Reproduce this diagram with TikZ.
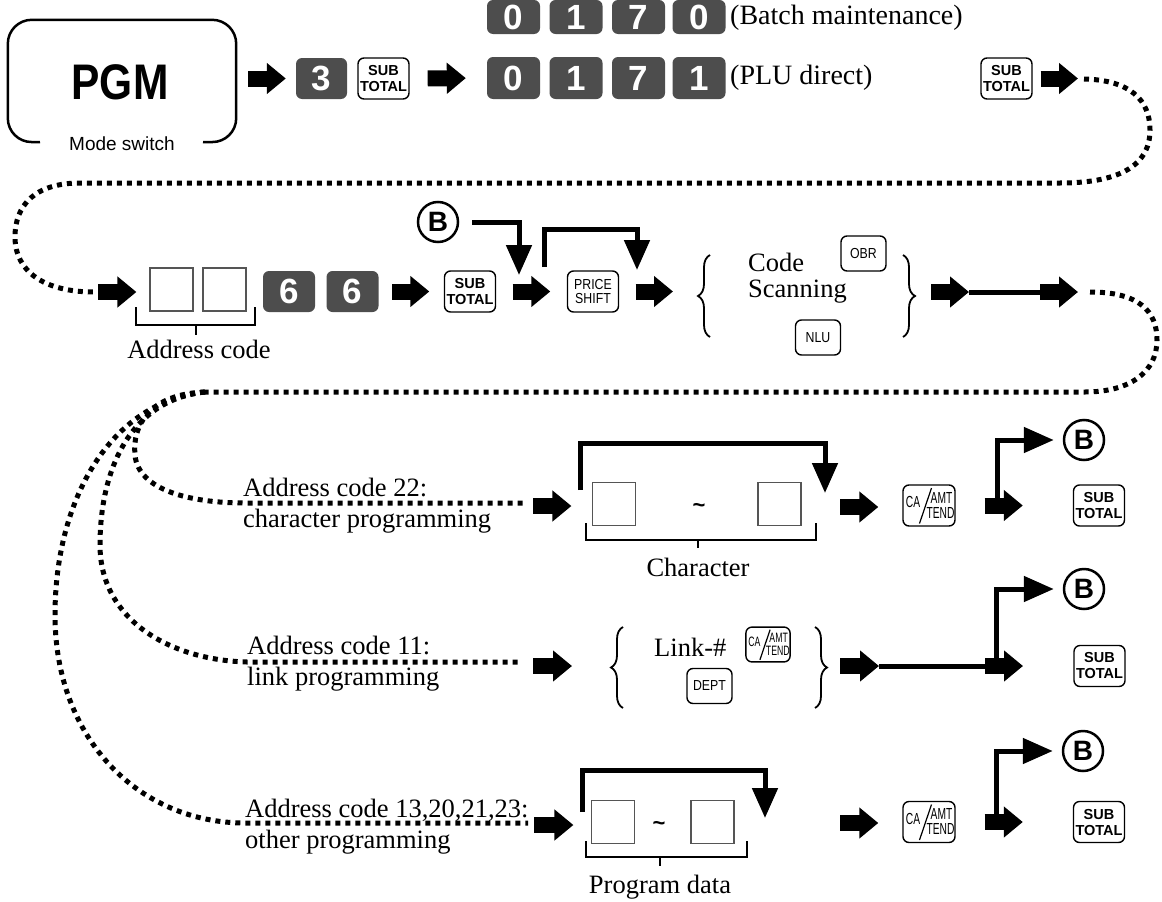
\documentclass[tikz,border=0pt]{standalone}
\usepackage{fontspec}
\usepackage{graphicx}
\setmainfont{Liberation Serif}
\newfontfamily\arial{Liberation Sans}
\newfontfamily\arialn[FakeStretch=0.85]{Liberation Sans}
\newfontfamily\arialnn[FakeStretch=0.64]{Liberation Sans}
\usetikzlibrary{arrows.meta,decorations.pathreplacing,calc}
\definecolor{keygray}{HTML}{4D4D4D}
\definecolor{boxgray}{HTML}{555555}
\tikzset{
 wkey/.style={draw, line width=1.4pt, rounded corners=6pt, minimum width=51pt, minimum height=41pt, inner sep=0pt, fill=white, align=center},
 stk/.style={wkey, font=\arial\bfseries\fontsize{14.5}{16}\selectfont},
 smk/.style={wkey, minimum width=45pt, minimum height=35pt, font=\arialn\fontsize{14.5}{14.5}\selectfont},
 dkey/.style={fill=keygray, rounded corners=6pt, minimum width=53pt, minimum height=42pt, inner sep=0pt, text=white, font=\arial\bfseries\fontsize{35}{35}\selectfont},
 ebox/.style={draw=boxgray, line width=1.2pt, minimum size=43pt, inner sep=0pt},
 blk/.style={line width=16pt, -{Triangle[width=30pt,length=19pt]}},
 byp/.style={line width=5pt, -{Triangle[width=25pt,length=30pt]}},
 dots/.style={line width=5pt, dash pattern=on 5pt off 5pt},
 bcirc/.style={circle, draw, line width=2.5pt, minimum size=40pt, inner sep=0pt, font=\arial\bfseries\fontsize{28}{28}\selectfont},
 lbl/.style={inner sep=0pt, font=\fontsize{26.5}{31}\selectfont},
 ann/.style={inner sep=0pt, font=\fontsize{28}{28}\selectfont},
 brk/.style={line width=2pt},
 brc/.style={decorate, decoration={brace, amplitude=12pt}, line width=1.8pt},
 catxt/.style={inner sep=0pt, font=\arialnn\fontsize{16}{16}\selectfont},
 tld/.style={inner sep=0pt, font=\arial\bfseries\fontsize{22}{22}\selectfont},
 thk/.style={line width=5pt},
}
\newcommand\myCAkey[4]{%
 \begin{scope}[shift={(#2,#3)}, scale=#4, transform shape]
  \node[wkey, minimum width=52pt] (#1) at (0,0) {};
  \node[catxt] (#1-ca) at (-16,-3.5) {CA};
  \node[catxt] (#1-amt) at (12.5,-8) {AMT};
  \node[catxt] (#1-tend) at (11.5,7) {TEND};
  \draw[line width=1.2pt] (-9.5,18) -- (2.5,-17.5);
 \end{scope}}
\begin{document}
\begin{tikzpicture}[x=1pt,y=-1pt]
\useasboundingbox (0,0) rectangle (1162,902);

% ---------------- Row 1
\node (pgmbox) [minimum width=228pt, minimum height=122pt, inner sep=0pt] at (122,81) {};
\draw[line width=2.5pt, rounded corners=24pt] (40,142) -- (pgmbox.south west) -- (pgmbox.north west) -- (pgmbox.north east) -- (pgmbox.south east) -- (203,142);
\node (pgm) at (120,82) [font=\arialn\bfseries\fontsize{50}{50}\selectfont] {PGM};
\node (mode) at (122,144) [font=\arial\fontsize{19}{19}\selectfont] {Mode switch};
\node[dkey, minimum width=51pt, minimum height=41pt] (k3) at (321.5,78.5) {3};
\node[stk] (st0) at (383.5,78.5) {SUB\\TOTAL};
\draw[blk, shorten <=12pt, shorten >=10pt] (pgmbox.east |- k3) -- (k3.west);

\node[dkey, minimum height=34pt] (a0) at (513.5,17) {0};
\node[dkey, minimum height=34pt] (a1) at (576,17) {1};
\node[dkey, minimum height=34pt] (a2) at (638.5,17) {7};
\node[dkey, minimum height=34pt] (a3) at (699,17) {0};
\node[dkey] (b0) at (513.5,78) {0};
\node[dkey] (b1) at (576,78) {1};
\node[dkey] (b2) at (638.5,78) {7};
\node[dkey] (b3) at (699,78) {1};
\draw[blk, shorten <=18pt, shorten >=21pt] (st0.east) -- (b0.west);
\node[ann, anchor=west] (batch) at (730,18) {(Batch maintenance)};
\node[ann, anchor=west] (plu) at (730,78) {(PLU direct)};
\node[stk] (st1) at (1006.5,78.5) {SUB\\TOTAL};
\coordinate (d1) at (1078,78.5);
\coordinate (d1s) at (1084,79);
\draw[blk, shorten <=8pt] (st1.east) -- (d1);

% dotted loop 1
\coordinate (d2) at (98,292);
\draw[dots] (d1s) .. controls (1130,80) and (1150,100) .. (1150,130) .. controls (1150,168) and (1115,183) .. (1060,183) -- (80,183) .. controls (35,183) and (15,205) .. (15,237) .. controls (15,272) and (45,292) .. (94,292);

% ---------------- Row 2
\node[ebox] (e1) at (171.5,289.5) {};
\node[ebox] (e2) at (224.5,289.5) {};
\draw[blk, shorten >=13pt] (d2) -- (e1.west |- d2);
\draw[brk] (136,307) -- (136,325) -- (255,325) -- (255,307);
\draw[brk] (196,325) -- (196,335);
\node[lbl, anchor=base] (adc) at (199,358) {Address code};
\node[dkey, minimum width=52pt, minimum height=41pt] (s1) at (289,291.5) {6};
\node[dkey, minimum width=52pt, minimum height=41pt] (s2) at (352.5,291.5) {6};
\node[stk] (st2) at (470,291.5) {SUB\\TOTAL};
\node[wkey, font=\arialn\fontsize{14.5}{13.5}\selectfont] (ps) at (593,291.5) {PRICE\\SHIFT};
\draw[blk, shorten <=13.5pt, shorten >=14.5pt] (s2.east) -- (st2.west);
\draw[blk, shorten <=16.5pt, shorten >=16.5pt] (st2.east) -- (ps.west);
\coordinate (r2z) at (673,291.5);
\draw[blk, shorten <=16.5pt] (ps.east) -- (r2z);
\node[bcirc] (bA) at (438,222) {B};
\coordinate (bA1) at (519,275);
\draw[byp] ([xshift=13pt]bA.east) -| (bA1);
\coordinate (p0) at (544,267);
\coordinate (p1) at (637,270);
\draw[byp] (p0) -- (544,229) -| (p1);

\draw[brc] (710,337) -- (710,255);
\node[lbl, anchor=west] (code) at (748,262) {Code};
\node[lbl, anchor=west] (scan) at (748,292) {Scanning};
\node[smk] (obr) at (863.5,253.5) {OBR};
\node[smk] (nlu) at (818,337.5) {NLU};
\draw[brc] (903,255) -- (903,337);
\coordinate (r2a) at (931,292);
\coordinate (r2b) at (969,292);
\coordinate (r2c) at (1040,292);
\coordinate (r2d) at (1078,292);
\draw[blk] (r2a) -- (r2b);
\draw[thk] (r2b) -- (r2c);
\draw[blk] (r2c) -- (r2d);

% dotted loop 2 and fan
\coordinate (d3) at (1090,292);
\coordinate (j) at (205,392);
\draw[dots] (d3) .. controls (1140,292) and (1157,312) .. (1157,340) .. controls (1157,372) and (1130,392) .. (1085,392) -- (j);
\draw[dots] (j) .. controls (150,394) and (132,425) .. (135,455) .. controls (138,490) and (190,503) .. (245,503) -- (523,503);
\draw[dots] (j) .. controls (130,400) and (100,470) .. (100,545) .. controls (100,620) and (170,660) .. (247,662) -- (520,662);
\draw[dots] (j) .. controls (110,402) and (55,500) .. (55,615) .. controls (55,740) and (140,823) .. (245,823) -- (528,823);

% ---------------- Row 3
\node[lbl, anchor=base west] (l22a) at (243,496) {Address code 22:};
\node[lbl, anchor=base west] (l22b) at (243,527) {character programming};
\node[ebox] (c1) at (614,504) {};
\node[ebox] (c2) at (779.5,504) {};
\node[tld] (t3) at (699,508) {\textasciitilde};
\coordinate (r3a) at (533,506);
\draw[blk, shorten >=20.5pt] (r3a) -- (c1.west |- r3a);
\coordinate (q0) at (580,490);
\coordinate (q1) at (825,493);
\draw[byp] (q0) -- (580,443) -| (q1);
\draw[brk] (586,523) -- (586,540) -- (816,540) -- (816,523);
\draw[brk] (698,540) -- (698,548);
\node[lbl, anchor=base] (chr) at (698,576) {Character};
\myCAkey{ca3}{929}{505.5}{1}
\coordinate (r3b) at (840,507);
\draw[blk, shorten >=24pt] (r3b) -- (ca3.west |- r3b);
\node[stk] (st3) at (1099,505.5) {SUB\\TOTAL};
\draw[blk, shorten <=29pt, shorten >=50pt] (ca3.east) -- (st3.west);
\node[bcirc] (bB) at (1084,440) {B};
\coordinate (vB) at (997,500);
\draw[byp, shorten >=9pt] (vB) |- (bB.west);

% ---------------- Row 4
\node[lbl, anchor=base west] (l11a) at (247,654) {Address code 11:};
\node[lbl, anchor=base west] (l11b) at (247,685) {link programming};
\coordinate (r4a) at (533,666);
\coordinate (r4b) at (572,666);
\draw[blk] (r4a) -- (r4b);
\draw[brc] (623,708) -- (623,627);
\node[lbl, anchor=base west] (link) at (654,656) {Link-\#};
\myCAkey{ca4}{768}{644.5}{0.85}
\node[smk] (dept) at (709.5,686) {DEPT};
\draw[brc] (815,627) -- (815,708);
\coordinate (r4c) at (840,666);
\coordinate (r4d) at (879,666);
\coordinate (r4e) at (985,666);
\coordinate (r4f) at (1023,666);
\draw[blk] (r4c) -- (r4d);
\draw[thk] (r4d) -- (r4e);
\draw[blk] (r4e) -- (r4f);
\node[stk] (st4) at (1099.5,666) {SUB\\TOTAL};
\node[bcirc] (bC) at (1084,589) {B};
\coordinate (vC) at (996,660);
\draw[byp, shorten >=9pt] (vC) |- (bC.west);

% ---------------- Row 5
\node[lbl, anchor=base west] (l13a) at (245,817) {Address code 13,20,21,23:};
\node[lbl, anchor=base west] (l13b) at (245,848) {other programming};
\node[ebox] (f1) at (613,822) {};
\node[ebox] (f2) at (712.5,822) {};
\node[tld] (t5) at (659,826) {\textasciitilde};
\coordinate (r5a) at (534,825);
\draw[blk, shorten >=17.5pt] (r5a) -- (f1.west |- r5a);
\coordinate (u0) at (582,812);
\coordinate (u1) at (765,818);
\draw[byp] (u0) -- (582,770) -| (u1);
\draw[brk] (586,841) -- (586,857) -- (747,857) -- (747,841);
\draw[brk] (660,857) -- (660,866);
\node[lbl, anchor=base] (pdat) at (660,893) {Program data};
\myCAkey{ca5}{929}{822}{1}
\coordinate (r5b) at (840,823);
\draw[blk, shorten >=24pt] (r5b) -- (ca5.west |- r5b);
\node[stk] (st5) at (1099,822) {SUB\\TOTAL};
\draw[blk, shorten <=29pt, shorten >=50pt] (ca5.east) -- (st5.west);
\node[bcirc] (bD) at (1083,751) {B};
\coordinate (vD) at (996,815);
\draw[byp, shorten >=9pt] (vD) |- (bD.west);
\end{tikzpicture}
\end{document}
